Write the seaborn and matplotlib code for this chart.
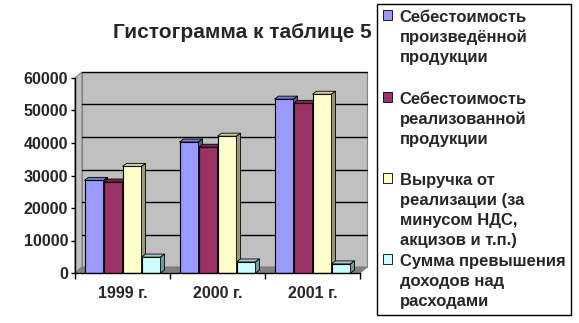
import numpy as np
import pandas as pd
import matplotlib
matplotlib.use("Agg")
import matplotlib.pyplot as plt
import seaborn as sns
from matplotlib.patches import Polygon, Rectangle
from matplotlib.transforms import ScaledTranslation, IdentityTransform
from matplotlib.colors import to_rgb
from matplotlib.font_manager import FontProperties

# ---- data ----
years = ["1999 г.", "2000 г.", "2001 г."]
series = [
    "Себестоимость\nпроизведённой\nпродукции",
    "Себестоимость\nреализованной\nпродукции",
    "Выручка от\nреализации (за\nминусом НДС,\nакцизов и т.п.)",
    "Сумма превышения\nдоходов над\nрасходами",
]
cost_produced = [28500, 40300, 53500]
cost_sold = [28000, 38700, 52200]
revenue = [32800, 42100, 55000]
excess = [4900, 3400, 2800]
colors = ["#9999FF", "#993366", "#FFFFCC", "#CCFFFF"]
yticks = [0, 10000, 20000, 30000, 40000, 50000, 60000]
title = "Гистограмма к таблице 5"

df = pd.DataFrame({
    "year": years * 4,
    "series": np.repeat(series, len(years)),
    "value": cost_produced + cost_sold + revenue + excess,
})

sns.set_style("white")
plt.rcParams["font.family"] = ["Liberation Sans", "DejaVu Sans"]

W, H = 579, 323
fig = plt.figure(figsize=(W / 100, H / 100), dpi=100)
ax = fig.add_axes([75 / W, 50 / H, 285 / W, 195 / H])

sns.barplot(data=df, x="year", y="value", hue="series", palette=colors,
            saturation=1, edgecolor="black", linewidth=0.8, width=0.8, ax=ax)
bars = [p for p in ax.patches]
ax.set_xlim(-0.5, 2.5)
ax.set_ylim(0, 60000)
ax.patch.set_visible(False)
ax.set_xlabel("")
ax.set_ylabel("")

# ---- 3D-like walls ----
wdx, wdy = 7, 6
off = ScaledTranslation(wdx / 100, wdy / 100, fig.dpi_scale_trans)
ident = IdentityTransform()
ax.add_patch(Rectangle((0, 0), 1, 1, transform=ax.transAxes + off,
                       fc="#C0C0C0", ec="#808080", lw=0.8, zorder=0.1, clip_on=False))
(x0, y0), (x1, y1) = ax.transAxes.transform([[0, 0], [1, 1]])
ax.add_patch(Polygon([(x0, y0), (x0, y1), (x0 + wdx, y1 + wdy), (x0 + wdx, y0 + wdy)],
                     closed=True, transform=ident, fc="#C0C0C0", ec="#808080",
                     lw=0.8, zorder=0.15, clip_on=False))
ax.add_patch(Polygon([(x0, y0), (x1, y0), (x1 + wdx, y0 + wdy), (x0 + wdx, y0 + wdy)],
                     closed=True, transform=ident, fc="#808080", ec="#808080",
                     lw=0.8, zorder=0.2, clip_on=False))
for v in yticks[1:]:
    ax.plot([0, 1], [v, v], transform=ax.get_yaxis_transform() + off,
            color="black", lw=1, zorder=0.5, clip_on=False)

# ---- 3D bar faces ----
def shade(c, f):
    r, g, b = to_rgb(c)
    return (r * f, g * f, b * f)

bdx, bdy = 4, 3
bars = sorted([p for p in bars if p.get_height() > 0], key=lambda p: p.get_x())
for i, p in enumerate(bars):
    z = 2 + i * 0.01
    p.set_zorder(z)
    (xa, ya), (xb, yb) = ax.transData.transform(
        [[p.get_x(), 0], [p.get_x() + p.get_width(), p.get_height()]])
    fc = p.get_facecolor()
    ax.add_patch(Polygon([(xa, yb), (xb, yb), (xb + bdx, yb + bdy), (xa + bdx, yb + bdy)],
                         closed=True, transform=ident, fc=shade(fc, 0.8), ec="black",
                         lw=0.6, zorder=z + 0.001, clip_on=False))
    ax.add_patch(Polygon([(xb, ya), (xb, yb), (xb + bdx, yb + bdy), (xb + bdx, ya + bdy)],
                         closed=True, transform=ident, fc=shade(fc, 0.6), ec="black",
                         lw=0.6, zorder=z + 0.002, clip_on=False))

# ---- axes styling ----
for s in ["top", "right"]:
    ax.spines[s].set_visible(False)
for s in ["left", "bottom"]:
    ax.spines[s].set_color("black")
    ax.spines[s].set_linewidth(1)
    ax.spines[s].set_zorder(3)
ax.set_yticks(yticks)
ax.set_yticklabels([str(v) for v in yticks])
ax.tick_params(axis="y", length=3, width=1, direction="out", pad=2,
               labelsize=11.5, left=True, color="black")
ax.set_xticks([-0.5, 0.5, 1.5, 2.5], minor=True)
ax.tick_params(axis="x", which="major", length=0, pad=9, labelsize=11.5)
ax.tick_params(axis="x", which="minor", length=4, width=1, direction="out",
               bottom=True, color="black")
for lab in ax.get_xticklabels() + ax.get_yticklabels():
    lab.set_fontweight("bold")

fig.text(242 / W, 1 - 38.5 / H, title, ha="center", va="baseline",
         fontsize=15, fontweight="bold")

# ---- legend ----
handles, labels = ax.get_legend_handles_labels()
if ax.get_legend() is not None:
    ax.get_legend().remove()
padded = [l + "\n" * (3 - l.count("\n")) if i < len(labels) - 1 else l
          for i, l in enumerate(labels)]
prop = FontProperties(family=["Liberation Sans", "DejaVu Sans"], weight="bold", size=12)
leg = fig.legend(handles, padded, loc="upper left",
                 bbox_to_anchor=(377 / W, 1 - 4 / H), frameon=True, fancybox=False,
                 edgecolor="black", framealpha=1, prop=prop, handlelength=0.55,
                 handleheight=0.55, handletextpad=0.45, borderpad=0.35,
                 borderaxespad=0, labelspacing=0.4)
leg.get_frame().set_linewidth(1)
for t in leg.get_texts():
    t.set_linespacing(1.4)
for h in leg.legend_handles:
    h.set_edgecolor("black")
    h.set_linewidth(0.6)
for col in leg._legend_handle_box.get_children():
    for hp in col.get_children():
        hp.align = "top"

fig.savefig("out.png", dpi=100)
